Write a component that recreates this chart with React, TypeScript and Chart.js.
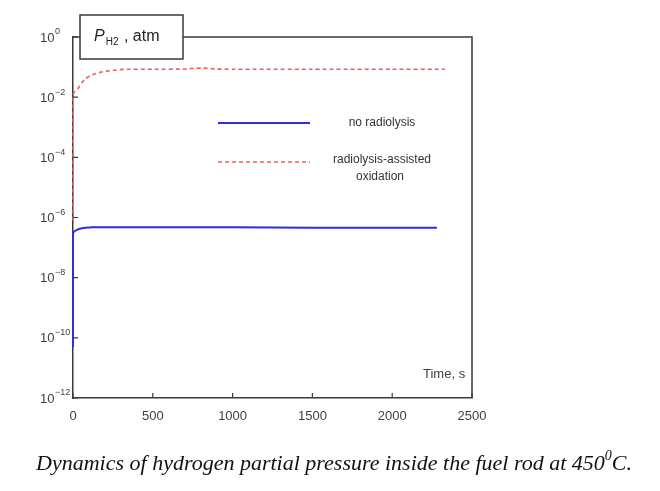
import React, { useEffect, useRef } from "react";
import { Chart, registerables } from "chart.js";

Chart.register(...registerables);

// ---- data ----
const X_TICKS = [0, 500, 1000, 1500, 2000, 2500];
const Y_TICK_EXPONENTS = [0, -2, -4, -6, -8, -10, -12];

const T_NO_RADIOLYSIS = [0, 0, 10, 25, 50, 80, 120, 200, 500, 1000, 1500, 2000, 2280];
const P_NO_RADIOLYSIS = [5e-11, 3e-7, 3.5e-7, 3.9e-7, 4.3e-7, 4.55e-7, 4.7e-7, 4.7e-7, 4.7e-7, 4.7e-7, 4.6e-7, 4.6e-7, 4.6e-7];

const T_RADIOLYSIS = [0, 0, 10, 30, 55, 80, 120, 175, 250, 320, 500, 700, 760, 820, 900, 1000, 1500, 2000, 2330];
const P_RADIOLYSIS = [8e-7, 0.012, 0.015, 0.019, 0.03, 0.042, 0.055, 0.068, 0.078, 0.084, 0.085, 0.086, 0.092, 0.092, 0.086, 0.085, 0.085, 0.085, 0.085];

const LEGEND_LABELS = ["no radiolysis", "radiolysis-assisted", "oxidation"];
const X_AXIS_LABEL = "Time, s";
const CAPTION_MAIN = "Dynamics of hydrogen partial pressure inside the fuel rod at 450";
const CAPTION_SUP = "0";
const CAPTION_END = "C.";

const BLUE = "rgb(45,45,225)";
const RED = "rgb(240,95,95)";
const AXIS = "#3a3a3a";
const TEXT = "#3f3f3f";

const decorPlugin = {
  id: "decor",
  afterDraw(chart: any) {
    const ctx = chart.ctx as CanvasRenderingContext2D;
    const { left, right, top, bottom } = chart.chartArea;
    const xs = chart.scales.x;
    const ys = chart.scales.y;
    ctx.save();
    // box top/right
    ctx.strokeStyle = AXIS;
    ctx.lineWidth = 1.5;
    ctx.beginPath();
    ctx.moveTo(left, top);
    ctx.lineTo(right, top);
    ctx.lineTo(right, bottom);
    ctx.stroke();
    // inward ticks
    ctx.lineWidth = 1.2;
    ctx.beginPath();
    X_TICKS.forEach((v) => {
      const px = xs.getPixelForValue(v);
      ctx.moveTo(px, bottom);
      ctx.lineTo(px, bottom - 5);
    });
    Y_TICK_EXPONENTS.forEach((e) => {
      const py = ys.getPixelForValue(Math.pow(10, e));
      ctx.moveTo(left, py);
      ctx.lineTo(left + 5, py);
    });
    ctx.stroke();
    // y labels with superscripts
    ctx.fillStyle = TEXT;
    ctx.textBaseline = "middle";
    ctx.textAlign = "left";
    Y_TICK_EXPONENTS.forEach((e) => {
      const py = ys.getPixelForValue(Math.pow(10, e));
      ctx.font = "13px Arial, 'Liberation Sans', sans-serif";
      ctx.fillText("10", 40, py + 1);
      ctx.font = "9px Arial, 'Liberation Sans', sans-serif";
      ctx.fillText(e === 0 ? "0" : "\u2212" + String(-e), 55, py - 5);
    });
    // y title box
    ctx.fillStyle = "#fff";
    ctx.fillRect(80, 15, 103, 44);
    ctx.strokeStyle = AXIS;
    ctx.lineWidth = 1.5;
    ctx.strokeRect(80, 15, 103, 44);
    ctx.fillStyle = "#222";
    ctx.textBaseline = "alphabetic";
    ctx.font = "italic 16px Arial, 'Liberation Sans', sans-serif";
    ctx.fillText("P", 94, 41);
    let x = 94 + ctx.measureText("P").width + 1;
    ctx.font = "10px Arial, 'Liberation Sans', sans-serif";
    ctx.fillText("H2", x, 45);
    x += ctx.measureText("H2").width + 1;
    ctx.font = "16px Arial, 'Liberation Sans', sans-serif";
    ctx.fillText(" , atm", x, 41);
    // x axis label
    ctx.fillStyle = TEXT;
    ctx.font = "13px Arial, 'Liberation Sans', sans-serif";
    ctx.textBaseline = "middle";
    ctx.fillText(X_AXIS_LABEL, 423, 374);
    // legend
    ctx.strokeStyle = BLUE;
    ctx.lineWidth = 2;
    ctx.beginPath();
    ctx.moveTo(218, 123);
    ctx.lineTo(310, 123);
    ctx.stroke();
    ctx.strokeStyle = RED;
    ctx.lineWidth = 1.6;
    ctx.setLineDash([4, 3]);
    ctx.beginPath();
    ctx.moveTo(218, 162);
    ctx.lineTo(310, 162);
    ctx.stroke();
    ctx.setLineDash([]);
    ctx.fillStyle = "#333";
    ctx.font = "12px Arial, 'Liberation Sans', sans-serif";
    ctx.textAlign = "center";
    ctx.fillText(LEGEND_LABELS[0], 382, 123);
    ctx.fillText(LEGEND_LABELS[1], 382, 160);
    ctx.fillText(LEGEND_LABELS[2], 380, 177);
    // caption
    ctx.textAlign = "left";
    ctx.textBaseline = "alphabetic";
    ctx.fillStyle = "#111";
    const mainFont = "italic 22px 'Liberation Serif', 'Times New Roman', serif";
    const supFont = "italic 14px 'Liberation Serif', 'Times New Roman', serif";
    ctx.font = mainFont;
    const w1 = ctx.measureText(CAPTION_MAIN).width;
    const w3 = ctx.measureText(CAPTION_END).width;
    ctx.font = supFont;
    const w2 = ctx.measureText(CAPTION_SUP).width;
    const total = w1 + w2 + w3;
    let cx = 334 - total / 2;
    ctx.font = mainFont;
    ctx.fillText(CAPTION_MAIN, cx, 470);
    cx += w1;
    ctx.font = supFont;
    ctx.fillText(CAPTION_SUP, cx, 460);
    cx += w2;
    ctx.font = mainFont;
    ctx.fillText(CAPTION_END, cx, 470);
    ctx.restore();
  },
};

export default function App() {
  const ref = useRef<HTMLCanvasElement | null>(null);
  useEffect(() => {
    if (!ref.current) return;
    const chart = new Chart(ref.current, {
      type: "line",
      data: {
        datasets: [
          {
            label: LEGEND_LABELS[0],
            data: T_NO_RADIOLYSIS.map((t, i) => ({ x: t, y: P_NO_RADIOLYSIS[i] })),
            borderColor: BLUE,
            borderWidth: 2,
            pointRadius: 0,
            tension: 0.2,
            clip: 6,
          },
          {
            label: LEGEND_LABELS[1] + " " + LEGEND_LABELS[2],
            data: T_RADIOLYSIS.map((t, i) => ({ x: t, y: P_RADIOLYSIS[i] })),
            borderColor: RED,
            borderWidth: 1.6,
            borderDash: [4, 3],
            pointRadius: 0,
            tension: 0.2,
            clip: 6,
          },
        ],
      },
      options: {
        animation: false,
        responsive: false,
        parsing: false as any,
        layout: { padding: { left: 0, top: 37, right: 188, bottom: 63 } },
        plugins: { legend: { display: false }, tooltip: { enabled: false } },
        scales: {
          x: {
            type: "linear",
            min: 0,
            max: 2500,
            afterBuildTicks: (s: any) => {
              s.ticks = X_TICKS.map((v) => ({ value: v }));
            },
            afterFit: (s: any) => {
              s.height = 30;
            },
            grid: { display: false },
            border: { display: true, color: AXIS, width: 1.5 },
            ticks: {
              color: TEXT,
              font: { size: 13, family: "Arial, 'Liberation Sans', sans-serif" },
              padding: 3,
              maxRotation: 0,
              callback: (v: any) => String(v),
            },
          },
          y: {
            type: "logarithmic",
            min: 1e-12,
            max: 1,
            afterBuildTicks: (s: any) => {
              s.ticks = Y_TICK_EXPONENTS.map((e) => ({ value: Math.pow(10, e) }));
            },
            afterFit: (s: any) => {
              s.width = 73;
            },
            grid: { display: false },
            border: { display: true, color: AXIS, width: 1.5 },
            ticks: { display: false },
          },
        },
      },
      plugins: [decorPlugin],
    });
    return () => chart.destroy();
  }, []);
  return (
    <div style={{ position: "fixed", left: 0, top: 0, width: 660, height: 491, background: "#fff" }}>
      <canvas ref={ref} width={660} height={491} style={{ width: 660, height: 491 }} />
    </div>
  );
}
